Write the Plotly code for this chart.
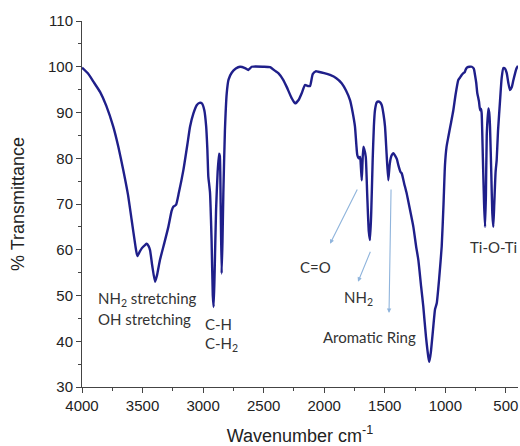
import plotly.graph_objects as go

wavenumber = [
    4000, 3950, 3900, 3851, 3800, 3742, 3700, 3659, 3620, 3590, 3560, 3543, 3525, 3507,
    3480, 3466, 3450, 3438, 3420, 3397, 3380, 3356, 3320, 3287, 3260, 3246, 3224, 3200,
    3163, 3130, 3108, 3080, 3053, 3030, 3010, 2990, 2975, 2965, 2957, 2950, 2943, 2930,
    2920, 2913, 2905, 2893, 2880, 2868, 2862, 2855, 2847, 2840, 2833, 2820, 2805, 2790,
    2764, 2730, 2695, 2654, 2627, 2599, 2500, 2448, 2400, 2379, 2340, 2310, 2270, 2241,
    2210, 2186, 2159, 2135, 2117, 2095, 2070, 2049, 2000, 1952, 1900, 1856, 1820, 1787,
    1765, 1746, 1735, 1727, 1715, 1704, 1697, 1690, 1684, 1677, 1670, 1657, 1645, 1632,
    1622, 1612, 1600, 1590, 1581, 1567, 1553, 1538, 1525, 1510, 1498, 1485, 1471, 1460,
    1451, 1440, 1429, 1415, 1400, 1388, 1370, 1360, 1340, 1319, 1290, 1264, 1240, 1223,
    1200, 1182, 1160, 1140, 1132, 1120, 1100, 1085, 1071, 1050, 1030, 1015, 1003, 990,
    975, 955, 934, 915, 893, 880, 865, 851, 840, 830, 818, 800, 782, 765, 755, 745, 736,
    728, 722, 713, 705, 700, 690, 680, 672, 665, 658, 645, 638, 631, 620, 612, 604, 596,
    585, 576, 565, 548, 535, 521, 507, 493, 480, 466, 452, 438, 420, 411, 400,
]
transmittance = [
    99.8, 98.5, 96.5, 94.5, 91.5, 86.9, 82.5, 77.4, 72.0, 66.5, 61.0, 58.6, 59.5, 60.3,
    61.0, 61.3, 60.8, 59.9, 56.5, 53.0, 54.5, 57.8, 61.5, 65.0, 68.5, 69.4, 69.8, 72.5,
    77.4, 83.0, 86.9, 89.8, 91.6, 92.1, 92.0, 90.5, 87.0, 82.0, 76.0, 74.3, 72.5, 62.0,
    50.0, 47.5, 55.0, 68.7, 77.0, 81.0, 80.5, 70.0, 54.8, 62.0, 72.3, 86.0, 94.2, 97.2,
    98.7, 99.6, 100.0, 99.7, 99.3, 100.0, 100.0, 99.9, 99.0, 98.6, 97.2, 95.6, 93.2, 92.0,
    92.8, 94.2, 96.0, 95.8, 95.8, 98.4, 99.0, 98.9, 98.6, 98.2, 97.5, 96.4, 94.8, 92.7,
    90.0, 86.9, 83.0, 80.7, 80.0, 80.3, 78.0, 75.2, 79.0, 82.5, 82.0, 80.3, 72.0, 64.0,
    62.1, 68.0, 79.6, 87.0, 90.5, 92.2, 92.4, 92.2, 91.6, 89.5, 86.9, 81.0, 75.2, 78.5,
    80.0, 80.8, 81.1, 80.6, 79.8, 78.5, 77.0, 76.7, 74.5, 72.3, 68.5, 65.0, 60.5, 57.8,
    52.0, 47.6, 41.0, 36.5, 35.5, 37.5, 43.0, 47.0, 48.3, 54.0, 60.7, 70.0, 78.5, 82.5,
    84.7, 87.5, 90.5, 94.0, 97.1, 97.6, 98.2, 98.6, 98.8, 99.5, 99.9, 100.0, 100.0, 99.6, 98.2, 96.5, 94.2,
    93.2, 92.4, 90.5, 90.8, 89.8, 80.0, 70.0, 65.0, 72.0, 85.0, 90.9, 90.0, 86.9, 76.0, 68.0, 65.0, 70.0,
    77.0, 79.6, 86.0, 92.7, 97.5, 99.7, 99.6, 98.6, 96.5, 94.9, 95.5, 97.1, 99.0, 99.7, 100.2,
]

x_ticks = [4000, 3500, 3000, 2500, 2000, 1500, 1000, 500]
x_minor = [3750, 3250, 2750, 2250, 1750, 1250, 750]
y_ticks = [30, 40, 50, 60, 70, 80, 90, 100, 110]
y_minor = [35, 45, 55, 65, 75, 85, 95, 105]

# labels: (text, wavenumber, transmittance, anchor)
labels = [
    ("NH<sub>2</sub> stretching", 3884, 49.2, "left"),
    ("OH stretching", 3884, 44.9, "left"),
    ("C-H", 3001, 43.8, "left"),
    ("C-H<sub>2</sub>", 3001, 39.4, "left"),
    ("C=O", 2068, 56.2, "center"),
    ("NH<sub>2</sub>", 1721, 49.5, "center"),
    ("Aromatic Ring", 1630, 40.9, "center"),
    ("Ti-O-Ti", 606, 60.6, "center"),
]
# arrows: (tail_w, tail_t, head_w, head_t)
arrows = [
    (1721, 73.5, 1952, 61.3),
    (1614, 59.9, 1721, 53.0),
    (1448, 73.5, 1465, 46.2),
]

fig = go.Figure()
fig.add_trace(go.Scatter(
    x=wavenumber, y=transmittance, mode="lines",
    line=dict(color="#1f1f8a", width=2.4, shape="spline", smoothing=0.5),
    showlegend=False, hoverinfo="skip",
))

for tw, tt, hw, ht in arrows:
    fig.add_annotation(
        x=hw, y=ht, ax=tw, ay=tt, xref="x", yref="y", axref="x", ayref="y",
        text="", showarrow=True, arrowhead=2, arrowsize=0.8, arrowwidth=1.1,
        arrowcolor="#8fb4dc", font=dict(size=10),
    )

for text, w, t, anchor in labels:
    fig.add_annotation(
        x=w, y=t, xref="x", yref="y", text=text, showarrow=False,
        xanchor=anchor, yanchor="middle",
        font=dict(family="Lato, Open Sans, sans-serif", size=15, color="#333333"),
    )

axis_font = dict(family="Liberation Sans, Arial, sans-serif", size=15, color="#222222")
fig.update_xaxes(
    range=[4000, 400], tickvals=x_ticks, ticks="outside", ticklen=5, tickwidth=1,
    tickcolor="#444444", showline=True, linecolor="#444444", linewidth=1,
    showgrid=False, zeroline=False, tickfont=axis_font,
    minor=dict(tickvals=x_minor, ticks="outside",
               ticklen=3, tickcolor="#444444", showgrid=False),
    title=dict(text="Wavenumber cm<sup>-1</sup>", standoff=20,
               font=dict(family="Liberation Sans, Arial, sans-serif", size=18, color="#222222")),
)
fig.update_yaxes(
    range=[30, 110], tickvals=y_ticks, ticks="outside", ticklen=5, tickwidth=1,
    tickcolor="#444444", showline=True, linecolor="#444444", linewidth=1,
    showgrid=False, zeroline=False, tickfont=axis_font,
    minor=dict(tickvals=y_minor, ticks="outside",
               ticklen=3, tickcolor="#444444", showgrid=False),
    title=dict(text="% Transmittance", standoff=18,
               font=dict(family="Liberation Sans, Arial, sans-serif", size=18, color="#222222")),
)
fig.update_layout(
    width=520, height=446,
    margin=dict(l=82, r=2, t=21, b=59, autoexpand=False),
    paper_bgcolor="white", plot_bgcolor="white",
)
fig.write_html("out.html", config={"displayModeBar": False},
               post_script="document.body.style.margin='0';")
